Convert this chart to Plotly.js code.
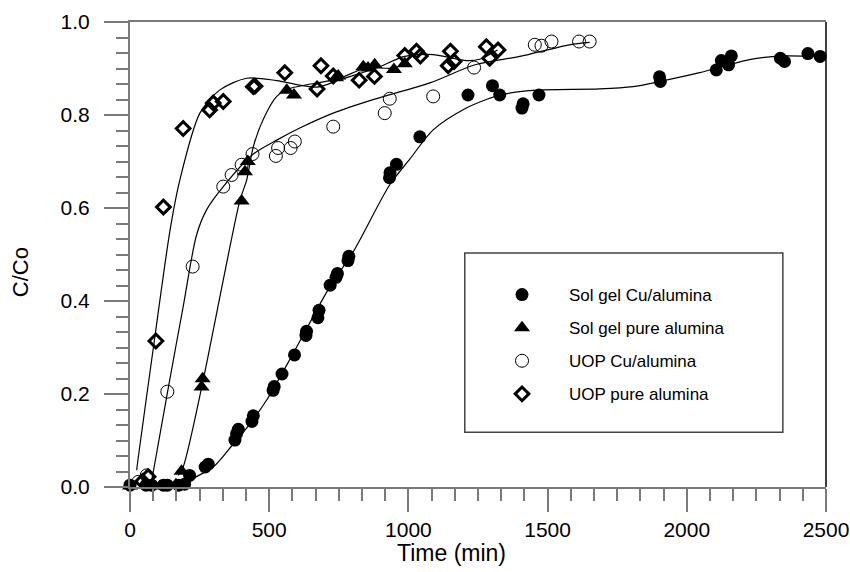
<!DOCTYPE html>
<html>
<head>
<meta charset="utf-8">
<script src="https://cdn.plot.ly/plotly-3.0.1.min.js"></script>
<style>html,body{margin:0;padding:0;background:#fff;}#chart{width:850px;height:572px;}</style>
</head>
<body>
<div id="chart"></div>
<script>
// ---- Data ----
const seriesNames = ["Sol gel Cu/alumina", "Sol gel pure alumina", "UOP Cu/alumina", "UOP pure alumina"];

// Sol gel Cu/alumina (filled circles)
const solCuT = [0,58,78,120,134,175,196,214,270,281,377,383,389,438,443,514,518,546,591,632,634,675,679,719,740,745,783,786,932,934,957,1041,1214,1302,1328,1408,1412,1469,1902,1905,2106,2124,2150,2160,2336,2351,2435,2479];
const solCuV = [0.004,0.004,0.004,0.004,0.004,0.004,0.006,0.025,0.043,0.049,0.101,0.115,0.124,0.141,0.153,0.208,0.216,0.243,0.284,0.326,0.335,0.364,0.380,0.434,0.451,0.459,0.487,0.496,0.665,0.676,0.694,0.753,0.843,0.863,0.843,0.815,0.824,0.843,0.882,0.872,0.897,0.917,0.908,0.927,0.922,0.915,0.932,0.926];

// Sol gel pure alumina (filled triangles)
const solPureT = [0,60,120,165,185,257,261,401,413,423,563,589,740,748,838,855,879,948,987];
const solPureV = [0.002,0.003,0.002,0.005,0.034,0.215,0.233,0.615,0.678,0.700,0.853,0.843,0.880,0.884,0.904,0.901,0.908,0.898,0.910];

// UOP Cu/alumina (open circles)
const uopCuT = [30,60,134,225,335,365,401,440,524,532,577,592,730,915,933,1089,1236,1454,1478,1514,1613,1651];
const uopCuV = [0.011,0.025,0.205,0.474,0.646,0.671,0.693,0.716,0.712,0.729,0.729,0.743,0.775,0.804,0.835,0.840,0.902,0.951,0.949,0.958,0.958,0.958];

// UOP pure alumina (open diamonds)
const uopPureT = [45,65,93,120,191,286,299,335,443,449,556,672,686,730,823,878,987,1029,1043,1143,1151,1164,1280,1292,1322];
const uopPureV = [0.012,0.022,0.314,0.602,0.771,0.811,0.826,0.829,0.861,0.862,0.891,0.856,0.906,0.884,0.875,0.883,0.928,0.937,0.927,0.906,0.937,0.915,0.947,0.922,0.940];

// Fitted curves
const fitSolCuT = [200,227,299,371,431,491,586,718,801,933,1005,1089,1208,1292,1328,1448,1687,1807,1902,2046,2225,2345,2488];
const fitSolCuV = [0.003,0.018,0.043,0.093,0.136,0.187,0.287,0.431,0.505,0.650,0.705,0.768,0.815,0.836,0.843,0.853,0.856,0.861,0.872,0.891,0.919,0.927,0.925];

const fitSolPureT = [173,191,263,299,347,395,419,443,478,527,568,742,850,945,987];
const fitSolPureV = [0.025,0.043,0.230,0.337,0.481,0.617,0.660,0.732,0.790,0.840,0.856,0.877,0.901,0.901,0.912];

const fitUopCuT = [78,138,191,239,275,335,443,527,610,730,873,1077,1240,1400,1579,1651];
const fitUopCuV = [0.014,0.215,0.388,0.542,0.596,0.646,0.716,0.746,0.772,0.804,0.833,0.869,0.908,0.926,0.951,0.956];

const fitUopPureT = [24,30,84,144,179,251,323,419,527,670,754,885,987,1089,1137,1208,1256,1320];
const fitUopPureV = [0.036,0.065,0.30,0.553,0.66,0.804,0.854,0.879,0.874,0.860,0.876,0.901,0.926,0.930,0.925,0.917,0.92,0.94];

const axisTitles = {x: "Time (min)", y: "C/Co"};

// ---- Styling ----
const FONT = "Arial, Liberation Sans, sans-serif";
const AXC = "#7a7a7a";

function fit(t, v) {
  return {x: t, y: v, type: "scatter", mode: "lines", showlegend: false, hoverinfo: "skip",
    line: {color: "#000", width: 1.2, shape: "spline", smoothing: 0.8}, cliponaxis: false};
}
function pts(t, v, name, marker, grp) {
  return {x: t, y: v, type: "scatter", mode: "markers", name: name, legendgroup: grp,
    marker: marker, cliponaxis: false};
}

const data = [
  fit(fitSolCuT, fitSolCuV),
  fit(fitSolPureT, fitSolPureV),
  fit(fitUopCuT, fitUopCuV),
  fit(fitUopPureT, fitUopPureV),
  pts(solCuT, solCuV, seriesNames[0], {symbol: "circle", size: 13, color: "#000", line: {width: 0}}, "a"),
  pts(solPureT, solPureV, seriesNames[1], {symbol: "triangle-up", size: 14, color: "#000", line: {width: 0}}, "b"),
  pts(uopCuT, uopCuV, seriesNames[2], {symbol: "circle-open", size: 13, color: "#000", line: {width: 1, color: "#000"}}, "c"),
  pts(uopPureT, uopPureV, seriesNames[3], {symbol: "diamond-open", size: 10.5, color: "#000", line: {width: 3, color: "#000"}}, "d")
];

const layout = {
  width: 850, height: 572,
  margin: {l: 130, r: 24, t: 22, b: 85},
  paper_bgcolor: "#fff", plot_bgcolor: "#fff",
  font: {family: FONT, color: "#000", size: 21},
  showlegend: true,
  legend: {
    x: 0.4957, y: 0.4516, xanchor: "left", yanchor: "top",
    bgcolor: "rgba(0,0,0,0)", borderwidth: 0,
    font: {family: FONT, size: 17, color: "#000"},
    traceorder: "grouped", tracegroupgap: 8, itemwidth: 84
  },
  xaxis: {
    range: [0, 2500], tickmode: "linear", tick0: 0, dtick: 500,
    showgrid: false, zeroline: false, showline: true, linecolor: AXC, linewidth: 2,
    mirror: true,
    ticks: "outside", ticklen: 23, tickwidth: 2, tickcolor: AXC,
    tickfont: {family: FONT, size: 21, color: "#000"},
    minor: {tickmode: "linear", tick0: 0, dtick: 500/6, ticks: "outside", ticklen: 12, tickwidth: 2, tickcolor: AXC, showgrid: false}
  },
  yaxis: {
    range: [0, 1], tickmode: "linear", tick0: 0, dtick: 0.2, tickformat: ".1f",
    showgrid: false, zeroline: false, showline: true, linecolor: AXC, linewidth: 2,
    ticks: "outside", ticklen: 24, tickwidth: 2, tickcolor: AXC, ticklabelstandoff: 10,
    tickfont: {family: FONT, size: 21, color: "#000"},
    minor: {tickmode: "linear", tick0: 0, dtick: 0.2/6, ticks: "outside", ticklen: 12, tickwidth: 2, tickcolor: AXC, showgrid: false}
  },
  annotations: [
    {text: axisTitles.x, xref: "paper", yref: "paper", x: 0.4626, y: -0.1425, xanchor: "center", yanchor: "middle",
     showarrow: false, font: {family: FONT, size: 23, color: "#000"}},
    {text: axisTitles.y, xref: "paper", yref: "paper", x: -0.158, y: 0.462, xanchor: "center", yanchor: "middle",
     textangle: -90, showarrow: false, font: {family: FONT, size: 22, color: "#000"}}
  ],
  shapes: [
    {type: "line", xref: "paper", yref: "paper", x0: 1, x1: 1, y0: 0, y1: 1, line: {color: "#000", width: 1.5}},
    {type: "rect", xref: "paper", yref: "paper", x0: 0.481, x1: 0.938, y0: 0.503, y1: 0.118, line: {color: "#444", width: 1.5}, fillcolor: "rgba(0,0,0,0)"}
  ]
};

Plotly.newPlot("chart", data, layout, {displayModeBar: false, staticPlot: true});
</script>
</body>
</html>
